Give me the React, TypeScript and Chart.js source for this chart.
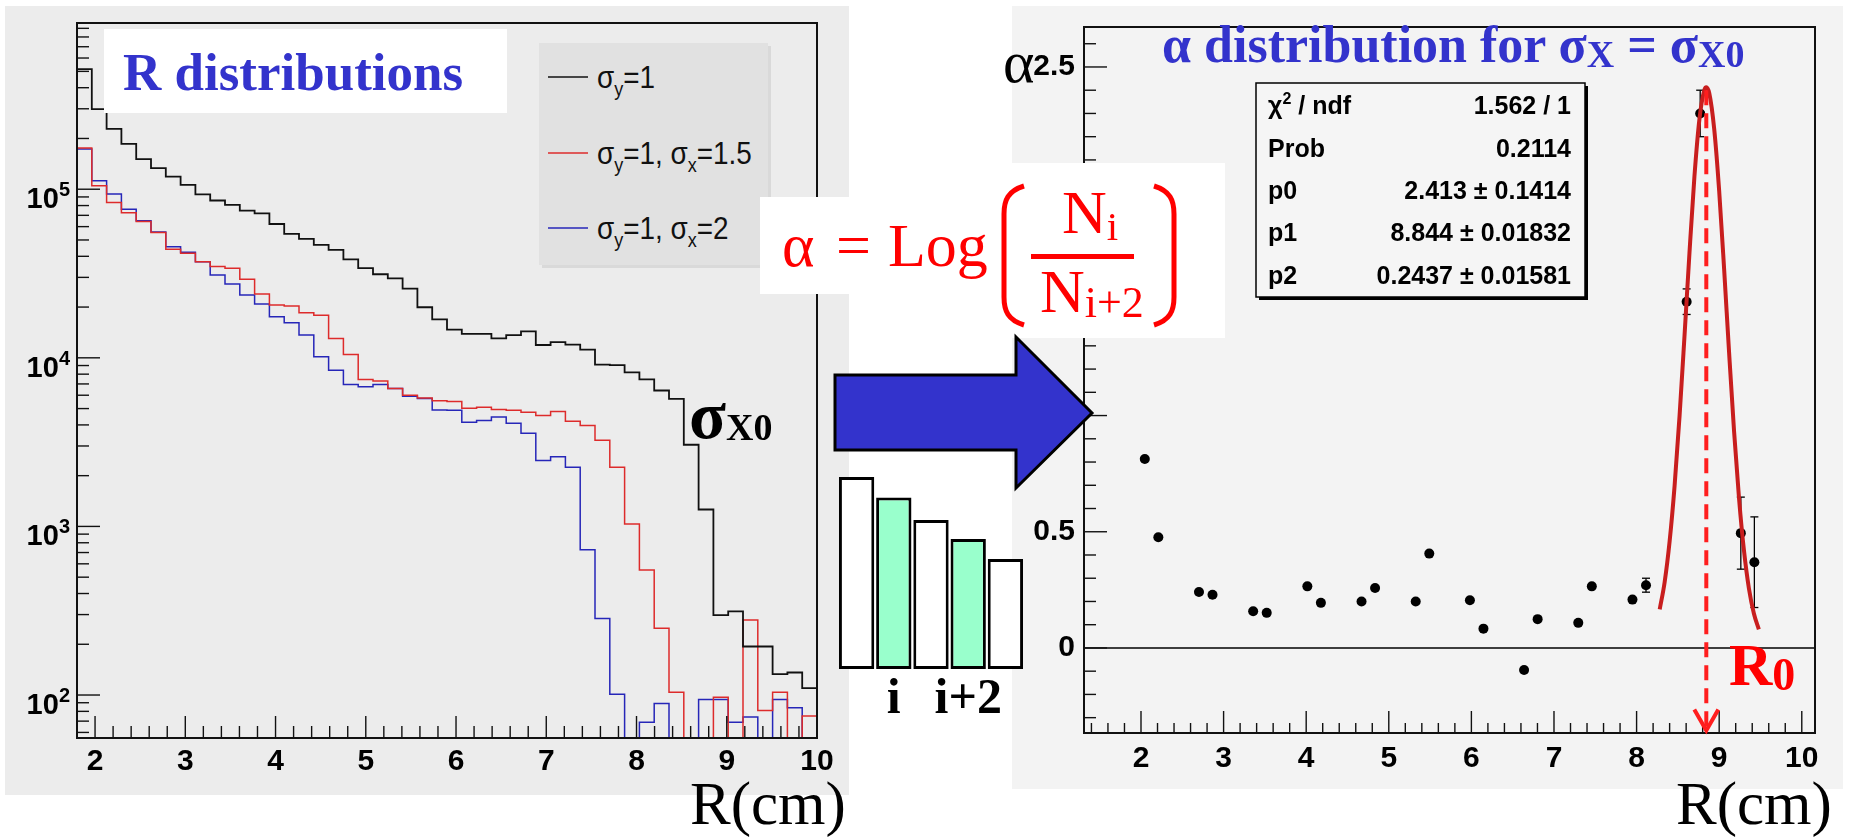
import React, { useEffect, useRef } from 'react';
import { Chart, registerables } from 'chart.js';

Chart.register(...registerables);

// ---------------- Left panel: R distributions (log histogram) ----------------
const binEdges = [
  1.8, 1.964, 2.128, 2.292, 2.456, 2.62, 2.784, 2.948, 3.112, 3.276,
  3.44, 3.604, 3.768, 3.932, 4.096, 4.26, 4.424, 4.588, 4.752, 4.916,
  5.08, 5.244, 5.408, 5.572, 5.736, 5.9, 6.064, 6.228, 6.392, 6.556,
  6.72, 6.884, 7.048, 7.212, 7.376, 7.54, 7.704, 7.868, 8.032, 8.196,
  8.36, 8.524, 8.688, 8.852, 9.016, 9.18, 9.344, 9.508, 9.672, 9.836, 10.0,
];
const countsSigmaY1 = [
  516000, 298500, 228000, 185800, 150700, 133400, 118900, 106200, 93300, 85700,
  80700, 74600, 71900, 62200, 54300, 50700, 46700, 43700, 38400, 34000,
  31300, 29600, 25700, 19950, 16900, 14700, 13870, 13870, 13030, 13650,
  14350, 11910, 12390, 11970, 11190, 9120, 9060, 8200, 7460, 6400,
  5710, 3050, 1260, 298, 313, 194, 194, 133, 136, 110,
];
const countsSigmaX15 = [
  175400, 104700, 83400, 72600, 64300, 55300, 44100, 41700, 37200, 34800,
  34000, 29200, 23900, 20560, 20280, 18490, 17910, 13030, 10470, 7430,
  7290, 6580, 6000, 5780, 5560, 5500, 5020, 5090, 4940, 4880,
  4760, 4550, 4810, 4210, 3970, 3240, 2240, 1035, 552, 249,
  104, 0, 0, 97, 0, 279, 81, 104, 0, 75,
];
const countsSigmaX2 = [
  173000, 112200, 93800, 76000, 64900, 55800, 45600, 42300, 37200, 31000,
  27400, 23550, 20840, 17540, 16140, 13650, 10140, 8450, 6950, 6730,
  6950, 6580, 5920, 5730, 4900, 4880, 4150, 4250, 4450, 4090,
  3570, 2460, 2590, 2240, 726, 284, 101, 0, 69, 89,
  0, 0, 94, 94, 69, 74, 0, 94, 84, 0,
];
const seriesLabels = ['σ_y=1', 'σ_y=1, σ_x=1.5', 'σ_y=1, σ_x=2'];
const seriesColors = ['#111111', '#dd2b2b', '#2626b8'];
const leftXTicks = [2, 3, 4, 5, 6, 7, 8, 9, 10];
const leftXTickLabels = ['2', '3', '4', '5', '6', '7', '8', '9', '10'];
const leftYDecades = [100, 1000, 10000, 100000];
const leftYExponents = ['2', '3', '4', '5'];
const LOG_FLOOR = 1; // empty bins fall below the axis and are clipped

// ---------------- Right panel: alpha distribution ----------------
const alphaR = [
  2.046, 2.21, 2.702, 2.866, 3.358, 3.522, 4.014, 4.178, 4.67, 4.834, 5.326, 5.49,
  5.982, 6.146, 6.638, 6.802, 7.294, 7.458, 7.95, 8.114, 8.606, 8.77, 9.262, 9.426,
];
const alphaVal = [
  0.813, 0.476, 0.241, 0.229, 0.158, 0.151, 0.265, 0.194, 0.2, 0.258, 0.2, 0.406,
  0.205, 0.083, -0.095, 0.124, 0.108, 0.265, 0.208, 0.27, 1.49, 2.3, 0.494, 0.369,
];
const alphaErr = [
  0.012, 0.012, 0.012, 0.012, 0.012, 0.012, 0.014, 0.014, 0.014, 0.015, 0.016, 0.018,
  0.02, 0.02, 0.02, 0.02, 0.02, 0.022, 0.025, 0.03, 0.055, 0.1, 0.155, 0.195,
];
const fitR = [
  8.28, 8.34, 8.4, 8.46, 8.52, 8.58, 8.64, 8.7, 8.76, 8.82, 8.844, 8.88,
  8.94, 9.0, 9.06, 9.12, 9.18, 9.24, 9.3, 9.36, 9.42, 9.48,
];
const fitAlpha = [
  0.166, 0.284, 0.459, 0.697, 0.997, 1.342, 1.699, 2.027, 2.273, 2.401, 2.413, 2.387,
  2.232, 1.966, 1.629, 1.271, 0.933, 0.645, 0.419, 0.256, 0.148, 0.08,
];
const rightXTicks = [2, 3, 4, 5, 6, 7, 8, 9, 10];
const rightXTickLabels = ['2', '3', '4', '5', '6', '7', '8', '9', '10'];
const rightYTicks = [0, 0.5, 1, 1.5, 2, 2.5];
const rightYTickLabels = ['0', '0.5', '1', '1.5', '2', '2.5'];
const statNames = ['χ^2 / ndf', 'Prob', 'p0', 'p1', 'p2'];
const statValues = ['1.562 / 1', '0.2114', '2.413 ± 0.1414', '8.844 ± 0.01832', '0.2437 ± 0.01581'];
const r0Position = 8.844;
const r0ArrowFrom = 2.4;
const r0ArrowTo = -0.355;

// ---------------- Sketch of neighbouring bins ----------------
const sketchLabels = ['', 'i', '', 'i+2', ''];
const sketchHeights = [1.0, 0.893, 0.776, 0.677, 0.573];
const sketchColors = ['#ffffff', '#99ffcc', '#ffffff', '#99ffcc', '#ffffff'];

const SANS = "'Liberation Sans', Arial, Helvetica, sans-serif";
const SERIF = "'Liberation Serif', 'Times New Roman', serif";
const BLUE = '#3333cc';
const RED = '#ff0000';
const AXIS_FONT = { family: SANS, size: 30, weight: 'bold' as const };

function rich(s: string, base: number, small: number, shift: number) {
  const out: any[] = [];
  const re = /([_^])(\{[^}]*\}|.)/g;
  let last = 0;
  let cur = 0;
  let k = 0;
  let m: RegExpExecArray | null;
  const push = (text: string, size: number, target: number) => {
    out.push(
      <tspan key={k++} fontSize={size} dy={target - cur}>
        {text}
      </tspan>
    );
    cur = target;
  };
  while ((m = re.exec(s)) !== null) {
    if (m.index > last) push(s.slice(last, m.index), base, 0);
    const t = m[2][0] === '{' ? m[2].slice(1, -1) : m[2];
    push(t, small, m[1] === '_' ? shift : -shift);
    last = re.lastIndex;
  }
  if (last < s.length) push(s.slice(last), base, 0);
  return out;
}

function line(ctx: CanvasRenderingContext2D, x1: number, y1: number, x2: number, y2: number) {
  ctx.beginPath();
  ctx.moveTo(x1, y1);
  ctx.lineTo(x2, y2);
  ctx.stroke();
}

function histPoints(counts: number[]) {
  const pts = counts.map((c, i) => ({ x: binEdges[i], y: c > 0 ? c : LOG_FLOOR }));
  const lastC = counts[counts.length - 1];
  pts.push({ x: binEdges[binEdges.length - 1], y: lastC > 0 ? lastC : LOG_FLOOR });
  return pts;
}

export default function App() {
  const leftRef = useRef<HTMLCanvasElement>(null);
  const rightRef = useRef<HTMLCanvasElement>(null);
  const sketchRef = useRef<HTMLCanvasElement>(null);

  useEffect(() => {
    const charts: Chart[] = [];

    // ---------- left chart ----------
    const leftPlugin = {
      id: 'rootLeft',
      afterDatasetsDraw(chart: any) {
        const { ctx, chartArea: a, scales } = chart;
        const xs = scales.x;
        const ys = scales.y;
        ctx.save();
        ctx.strokeStyle = '#111';
        ctx.lineWidth = 1.4;
        for (let i = 9; i <= 50; i++) {
          const v = i / 5;
          const px = xs.getPixelForValue(v);
          line(ctx, px, a.bottom, px, a.bottom - (i % 5 === 0 ? 22 : 12));
        }
        for (let d = 1; d <= 5; d++) {
          for (let mm = 1; mm <= 9; mm++) {
            const v = mm * Math.pow(10, d);
            if (v < ys.min || v > ys.max) continue;
            const py = ys.getPixelForValue(v);
            line(ctx, a.left, py, a.left + (mm === 1 ? 23 : 12), py);
          }
        }
        ctx.fillStyle = '#000';
        ctx.textBaseline = 'alphabetic';
        ctx.textAlign = 'right';
        leftYDecades.forEach((v, i) => {
          const py = ys.getPixelForValue(v);
          ctx.font = `bold 20px ${SANS}`;
          const ew = ctx.measureText(leftYExponents[i]).width;
          ctx.fillText(leftYExponents[i], a.left - 7, py + 7);
          ctx.font = `bold 29px ${SANS}`;
          ctx.fillText('10', a.left - 7 - ew, py + 19);
        });
        ctx.lineWidth = 2;
        ctx.strokeRect(a.left, a.top, a.right - a.left, a.bottom - a.top);
        ctx.restore();
      },
    };

    if (leftRef.current) {
      charts.push(
        new Chart(leftRef.current, {
          type: 'line',
          data: {
            datasets: [countsSigmaY1, countsSigmaX15, countsSigmaX2].map((c, i) => ({
              label: seriesLabels[i],
              data: histPoints(c),
              borderColor: seriesColors[i],
              borderWidth: i === 0 ? 1.8 : 1.5,
              pointRadius: 0,
              stepped: true,
              fill: false,
            })),
          },
          options: {
            responsive: false,
            animation: false,
            devicePixelRatio: 1,
            events: [],
            layout: { padding: { left: 0, top: 23, right: 33, bottom: 0 } },
            plugins: { legend: { display: false }, tooltip: { enabled: false } },
            scales: {
              x: {
                type: 'linear',
                min: 1.8,
                max: 10,
                afterFit: (s: any) => {
                  s.height = 62;
                },
                afterBuildTicks: (s: any) => {
                  s.ticks = leftXTicks.map((v) => ({ value: v }));
                },
                grid: { display: false, drawTicks: false },
                border: { display: false },
                ticks: {
                  font: AXIS_FONT,
                  color: '#000',
                  padding: 6,
                  maxRotation: 0,
                  minRotation: 0,
                  autoSkip: false,
                  callback: (_v: any, i: number) => leftXTickLabels[i],
                },
              },
              y: {
                type: 'logarithmic',
                min: 55.6,
                max: 968000,
                afterFit: (s: any) => {
                  s.width = 77;
                },
                grid: { display: false, drawTicks: false },
                border: { display: false },
                ticks: { display: false },
              },
            },
          } as any,
          plugins: [leftPlugin],
        })
      );
    }

    // ---------- right chart ----------
    const rightPlugin = {
      id: 'rootRight',
      beforeDatasetsDraw(chart: any) {
        const { ctx, chartArea: a, scales } = chart;
        const xs = scales.x;
        const ys = scales.y;
        ctx.save();
        ctx.strokeStyle = '#000';
        ctx.lineWidth = 1.6;
        const y0 = ys.getPixelForValue(0);
        line(ctx, a.left, y0, a.right, y0);
        ctx.lineWidth = 1.3;
        alphaR.forEach((r, i) => {
          const px = xs.getPixelForValue(r);
          const top = ys.getPixelForValue(alphaVal[i] + alphaErr[i]);
          const bot = ys.getPixelForValue(alphaVal[i] - alphaErr[i]);
          if (bot - top < 12) return;
          line(ctx, px, top, px, bot);
          line(ctx, px - 4, top, px + 4, top);
          line(ctx, px - 4, bot, px + 4, bot);
        });
        ctx.restore();
      },
      afterDatasetsDraw(chart: any) {
        const { ctx, chartArea: a, scales } = chart;
        const xs = scales.x;
        const ys = scales.y;
        ctx.save();
        ctx.strokeStyle = '#111';
        ctx.lineWidth = 1.4;
        for (let i = 7; i <= 50; i++) {
          const v = i / 5;
          if (v < xs.min || v > xs.max) continue;
          const px = xs.getPixelForValue(v);
          line(ctx, px, a.bottom, px, a.bottom - (i % 5 === 0 ? 22 : 10));
        }
        for (let i = -3; i <= 26; i++) {
          const v = i / 10;
          if (v < ys.min || v > ys.max) continue;
          const py = ys.getPixelForValue(v);
          line(ctx, a.left, py, a.left + (i % 5 === 0 ? 23 : 12), py);
        }
        ctx.lineWidth = 2;
        ctx.strokeRect(a.left, a.top, a.right - a.left, a.bottom - a.top);
        // dashed R0 arrow
        const px = xs.getPixelForValue(r0Position);
        const yTop = ys.getPixelForValue(r0ArrowFrom);
        const yTip = ys.getPixelForValue(r0ArrowTo);
        ctx.strokeStyle = '#ff1e1e';
        ctx.lineWidth = 4;
        ctx.setLineDash([15, 8]);
        line(ctx, px, yTop, px, yTip - 3);
        ctx.setLineDash([]);
        ctx.beginPath();
        ctx.moveTo(px - 12, yTip - 21);
        ctx.lineTo(px, yTip);
        ctx.lineTo(px + 12, yTip - 21);
        ctx.stroke();
        ctx.restore();
      },
    };

    if (rightRef.current) {
      charts.push(
        new Chart(rightRef.current, {
          type: 'scatter',
          data: {
            datasets: [
              {
                type: 'line',
                label: 'fit',
                data: fitR.map((x, i) => ({ x, y: fitAlpha[i] })),
                borderColor: '#c81e1e',
                borderWidth: 4,
                pointRadius: 0,
                cubicInterpolationMode: 'monotone',
                fill: false,
              },
              {
                type: 'scatter',
                label: 'alpha',
                data: alphaR.map((x, i) => ({ x, y: alphaVal[i] })),
                pointRadius: 5,
                pointBackgroundColor: '#000',
                pointBorderColor: '#000',
                pointBorderWidth: 0,
                showLine: false,
              },
            ],
          },
          options: {
            responsive: false,
            animation: false,
            devicePixelRatio: 1,
            events: [],
            layout: { padding: { left: 0, top: 19, right: 41, bottom: 0 } },
            plugins: { legend: { display: false }, tooltip: { enabled: false } },
            scales: {
              x: {
                type: 'linear',
                min: 1.31,
                max: 10.16,
                afterFit: (s: any) => {
                  s.height = 67;
                },
                afterBuildTicks: (s: any) => {
                  s.ticks = rightXTicks.map((v) => ({ value: v }));
                },
                grid: { display: false, drawTicks: false },
                border: { display: false },
                ticks: {
                  font: AXIS_FONT,
                  color: '#000',
                  padding: 8,
                  maxRotation: 0,
                  minRotation: 0,
                  autoSkip: false,
                  callback: (_v: any, i: number) => rightXTickLabels[i],
                },
              },
              y: {
                type: 'linear',
                min: -0.366,
                max: 2.672,
                afterFit: (s: any) => {
                  s.width = 84;
                },
                afterBuildTicks: (s: any) => {
                  s.ticks = rightYTicks.map((v) => ({ value: v }));
                },
                grid: { display: false, drawTicks: false },
                border: { display: false },
                ticks: {
                  font: AXIS_FONT,
                  color: '#000',
                  padding: 9,
                  autoSkip: false,
                  callback: (_v: any, i: number) => rightYTickLabels[i],
                },
              },
            },
          } as any,
          plugins: [rightPlugin],
        })
      );
    }

    // ---------- sketch of bins i .. i+2 ----------
    if (sketchRef.current) {
      charts.push(
        new Chart(sketchRef.current, {
          type: 'bar',
          data: {
            labels: sketchLabels,
            datasets: [
              {
                data: sketchHeights,
                backgroundColor: sketchColors,
                borderColor: '#000',
                borderWidth: 3,
                borderSkipped: false,
                barPercentage: 0.95,
                categoryPercentage: 1.0,
              },
            ],
          },
          options: {
            responsive: false,
            animation: false,
            devicePixelRatio: 1,
            events: [],
            layout: { padding: { left: 3, top: 7, right: 3, bottom: 0 } },
            plugins: { legend: { display: false }, tooltip: { enabled: false } },
            scales: {
              x: {
                afterFit: (s: any) => {
                  s.height = 56;
                },
                grid: { display: false, drawTicks: false },
                border: { display: false },
                ticks: {
                  font: { family: SERIF, size: 50, weight: 'bold' },
                  color: '#000',
                  padding: 1,
                  maxRotation: 0,
                  minRotation: 0,
                  autoSkip: false,
                },
              },
              y: { display: false, min: 0, max: 1 },
            },
          } as any,
        })
      );
    }

    return () => charts.forEach((c) => c.destroy());
  }, []);

  const legendY = [77, 153, 228];
  const statY = [114, 157, 199, 241, 284];

  return (
    <div
      style={{
        position: 'absolute',
        left: 0,
        top: 0,
        width: 1856,
        height: 838,
        overflow: 'hidden',
        background: '#ffffff',
      }}
    >
      <div style={{ position: 'absolute', left: 5, top: 6, width: 844, height: 789, background: '#ececec' }} />
      <div style={{ position: 'absolute', left: 1012, top: 6, width: 831, height: 783, background: '#f3f3f3' }} />
      <canvas ref={leftRef} width={850} height={800} style={{ position: 'absolute', left: 0, top: 0, width: 850, height: 800 }} />
      <canvas ref={rightRef} width={856} height={800} style={{ position: 'absolute', left: 1000, top: 0, width: 856, height: 800 }} />
      <svg
        width={1856}
        height={838}
        style={{ position: 'absolute', left: 0, top: 0, pointerEvents: 'none' }}
      >
        {/* R distributions title box */}
        <rect x={104} y={29} width={403} height={84} fill="#ffffff" />
        <text x={123} y={90} fontFamily={SERIF} fontWeight="bold" fontSize={53} fill={BLUE}>
          R distributions
        </text>

        {/* legend */}
        <rect x={542} y={46} width={229} height={222} fill="#d9d9d9" />
        <rect x={539} y={43} width={229} height={222} fill="#e1e1e1" />
        {seriesLabels.map((lab, i) => (
          <g key={lab}>
            <line x1={548} x2={588} y1={legendY[i]} y2={legendY[i]} stroke={seriesColors[i]} strokeWidth={1.6} />
            <g transform={`translate(597 ${legendY[i] + 11}) scale(0.9 1)`}>
              <text x={0} y={0} fontFamily={SANS} fontSize={31} fill="#111">
                {rich(lab, 31, 20, 8)}
              </text>
            </g>
          </g>
        ))}

        {/* sigma_X0 label */}
        <text x={689} y={438} fontFamily={SERIF} fontWeight="bold" fontSize={68} fill="#000">
          {rich('σ_{X0}', 68, 38, 2)}
        </text>

        {/* formula alpha = Log(Ni/Ni+2) */}
        <rect x={760} y={197} width={260} height={97} fill="#ffffff" />
        <rect x={1000} y={163} width={225} height={175} fill="#ffffff" />
        <text x={782} y={266} fontFamily={SERIF} fontSize={62} fill={RED}>α</text>
        <text x={836} y={266} fontFamily={SERIF} fontSize={62} fill={RED}>=</text>
        <text x={888} y={266} fontFamily={SERIF} fontSize={62} fill={RED}>Log</text>
        <path d="M 1024 186 C 1008 191, 1004 200, 1004 214 L 1004 297 C 1004 311, 1008 320, 1024 325" stroke={RED} strokeWidth={5} fill="none" />
        <path d="M 1154 186 C 1170 191, 1174 200, 1174 214 L 1174 297 C 1174 311, 1170 320, 1154 325" stroke={RED} strokeWidth={5} fill="none" />
        <text x={1062} y={233} fontFamily={SERIF} fontSize={62} fill={RED}>
          {rich('N_i', 62, 41, 7)}
        </text>
        <rect x={1031} y={254} width={103} height={5} fill={RED} />
        <text x={1040} y={312} fontFamily={SERIF} fontSize={62} fill={RED}>
          {rich('N_{i+2}', 62, 44, 5)}
        </text>

        {/* big blue arrow */}
        <polygon
          points="835,375 1016,375 1016,337 1092,413 1016,488 1016,450 835,450"
          fill={BLUE}
          stroke="#000"
          strokeWidth={3}
        />

        {/* right panel texts */}
        <text x={1003} y={82} fontFamily={SERIF} fontSize={60} fill="#000">α</text>
        <text x={1162} y={62} fontFamily={SERIF} fontWeight="bold" fontSize={52} fill={BLUE}>
          {rich('α distribution for σ_X = σ_{X0}', 52, 38, 5)}
        </text>

        {/* fit statistics box */}
        <rect x={1259} y={86} width={329} height={214} fill="#000" />
        <rect x={1256} y={83} width={329} height={214} fill="#f5f5f5" stroke="#000" strokeWidth={1.5} />
        {statNames.map((n, i) => (
          <g key={n}>
            <text x={1268} y={statY[i]} fontFamily={SANS} fontWeight="bold" fontSize={25} fill="#000">
              {rich(n, 25, 16, 10)}
            </text>
            <text x={1571} y={statY[i]} fontFamily={SANS} fontWeight="bold" fontSize={25} fill="#000" textAnchor="end">
              {statValues[i]}
            </text>
          </g>
        ))}

        <text x={1729} y={685} fontFamily={SERIF} fontWeight="bold" fontSize={60} fill={RED}>
          {rich('R_0', 60, 46, 5)}
        </text>

        <text x={690} y={824} fontFamily={SERIF} fontSize={61} fill="#000">R(cm)</text>
        <text x={1676} y={824} fontFamily={SERIF} fontSize={61} fill="#000">R(cm)</text>
      </svg>
      <canvas ref={sketchRef} width={192} height={255} style={{ position: 'absolute', left: 835, top: 470, width: 192, height: 255 }} />
    </div>
  );
}
